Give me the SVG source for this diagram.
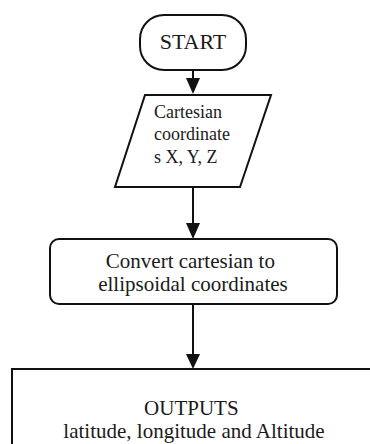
<svg xmlns="http://www.w3.org/2000/svg" width="370" height="444" viewBox="0 0 370 444">
<defs>
<style>
.shape{fill:#fff;stroke:#111;stroke-width:2}
.t{font-family:"Liberation Serif","Times New Roman",serif;fill:#1a1a1a}
.c{stroke:#111;stroke-width:2;fill:none}
.head{fill:#111}
</style>
</defs>
<rect width="370" height="444" fill="#fff"/>
<g id="connectors">
<line class="c" x1="193" y1="70" x2="193" y2="80"/>
<path class="head" d="M186,78 L200,78 L193,94 Z"/>
<line class="c" x1="193" y1="187" x2="193" y2="225"/>
<path class="head" d="M186,223 L200,223 L193,239 Z"/>
<line class="c" x1="193" y1="304" x2="193" y2="356"/>
<path class="head" d="M186,354 L200,354 L193,369 Z"/>
</g>
<g id="start">
<rect class="shape" x="140" y="15" width="106" height="55" rx="24" ry="24"/>
<text class="t" x="193" y="49" font-size="22" text-anchor="middle">START</text>
</g>
<g id="input">
<polygon class="shape" points="145,95 271,95 240,187 115,187"/>
<text class="t" font-size="18">
<tspan x="154" y="118">Cartesian</tspan>
<tspan x="154" y="140">coordinate</tspan>
<tspan x="154" y="163">s X, Y, Z</tspan>
</text>
</g>
<g id="convert">
<rect class="shape" x="50" y="239" width="287" height="65" rx="9" ry="9"/>
<text class="t" font-size="21" text-anchor="middle">
<tspan x="193" y="268">Convert cartesian to</tspan>
<tspan x="193" y="291">ellipsoidal coordinates</tspan>
</text>
</g>
<g id="outputs">
<rect class="shape" x="12" y="369" width="370" height="100"/>
<text class="t" font-size="21" text-anchor="middle">
<tspan x="194" y="415">OUTPUTS</tspan>
<tspan x="194" y="438">latitude, longitude and Altitude</tspan>
</text>
</g>
</svg>
